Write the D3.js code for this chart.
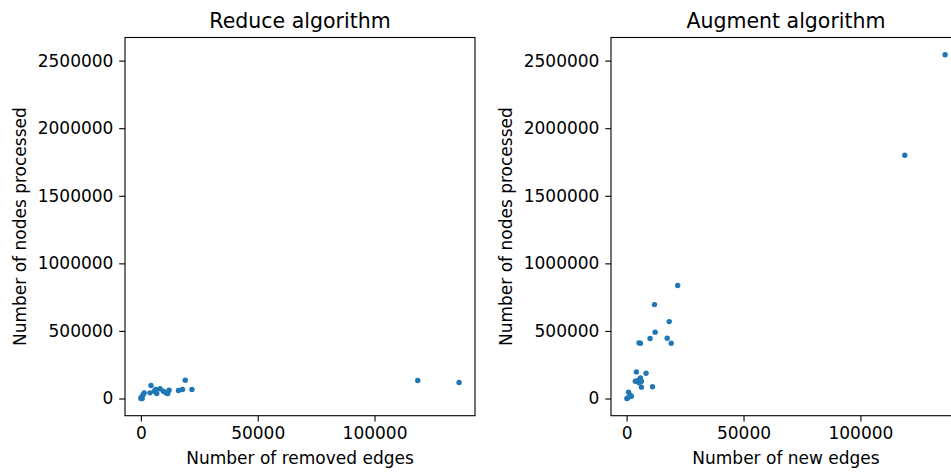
<!DOCTYPE html>
<html>
<head>
<meta charset="utf-8">
<script src="https://cdn.jsdelivr.net/npm/d3@7"></script>
<style>
  html, body { margin: 0; padding: 0; background: #fff; }
  svg { display: block; }
  text { font-family: "DejaVu Sans", sans-serif; fill: #000; }
</style>
</head>
<body>
<svg id="chart" width="951" height="474"></svg>
<script>
// ---- data ----
const reduceRemovedEdges = [0, 200, 560, 990, 1420, 3880, 4310, 5730, 6330, 6770, 8190, 9610, 10650, 11500, 12070, 16080, 17800, 18960, 21850, 118500, 136200];
const reduceNodes        = [0, 10000, 0, 29600, 42000, 42000, 96000, 54000, 67000, 37000, 72000, 54000, 42000, 37000, 61000, 59000, 67000, 135000, 67000, 133000, 118000];

const augmentNewEdges = [130, 560, 860, 1600, 2030, 3750, 4180, 4870, 5300, 5300, 5900, 5900, 6340, 6340, 8320, 10040, 11080, 11940, 12200, 17370, 18230, 19090, 21850, 118966, 136207];
const augmentNodes    = [0, 5000, 47000, 22000, 17000, 128000, 197000, 133000, 116000, 412000, 153000, 409000, 128000, 84000, 187000, 444000, 87000, 695000, 491000, 446000, 569000, 409000, 836000, 1800000, 2544000];

const xTicks = [0, 50000, 100000];
const yTicks = [0, 500000, 1000000, 1500000, 2000000, 2500000];

const panels = [
  { title: "Reduce algorithm", xlabel: "Number of removed edges", x: reduceRemovedEdges, y: reduceNodes, left: 125 },
  { title: "Augment algorithm", xlabel: "Number of new edges", x: augmentNewEdges, y: augmentNodes, left: 611 }
];

// ---- layout ----
const svg = d3.select("#chart");
const W = 350, plotTop = 37.5, plotBottom = 415.7;
const tickLen = 5.8, pad = 5.8, fs = 17;

function padded(ext) {
  const r = ext[1] - ext[0];
  return [ext[0] - 0.05 * r, ext[1] + 0.05 * r];
}
const allY = reduceNodes.concat(augmentNodes);
const yDomain = padded(d3.extent(allY));
const y = d3.scaleLinear().domain(yDomain).range([plotBottom, plotTop]);

panels.forEach(p => {
  const x = d3.scaleLinear().domain(padded(d3.extent(p.x))).range([p.left, p.left + W]);
  const g = svg.append("g");

  // points
  g.selectAll("circle").data(p.x.map((d, i) => [d, p.y[i]])).enter()
    .append("circle")
    .attr("cx", d => x(d[0]))
    .attr("cy", d => y(d[1]))
    .attr("r", 2.7)
    .attr("fill", "#1f77b4");

  // x axis
  const xa = g.append("g").attr("transform", `translate(0,${plotBottom})`)
    .call(d3.axisBottom(x).tickValues(xTicks).tickFormat(d3.format("d")).tickSize(tickLen).tickPadding(pad));
  // y axis
  const ya = g.append("g").attr("transform", `translate(${p.left},0)`)
    .call(d3.axisLeft(y).tickValues(yTicks).tickFormat(d3.format("d")).tickSize(tickLen).tickPadding(pad));
  [xa, ya].forEach(a => {
    a.select(".domain").remove();
    a.selectAll("line").attr("stroke", "#000").attr("stroke-width", 1.1);
    a.selectAll("text").style("font-size", fs + "px").style("font-family", "DejaVu Sans, sans-serif").attr("fill", "#000");
  });

  // frame
  g.append("rect")
    .attr("x", p.left).attr("y", plotTop)
    .attr("width", W).attr("height", plotBottom - plotTop)
    .attr("fill", "none").attr("stroke", "#000").attr("stroke-width", 1.1);

  // title
  g.append("text")
    .attr("x", p.left + W / 2).attr("y", 27.5)
    .attr("text-anchor", "middle")
    .style("font-size", "20.5px")
    .text(p.title);

  // x label
  g.append("text")
    .attr("x", p.left + W / 2).attr("y", 464)
    .attr("text-anchor", "middle")
    .style("font-size", fs + "px")
    .text(p.xlabel);

  // y label
  g.append("text")
    .attr("transform", `translate(${p.left - 99},${(plotTop + plotBottom) / 2}) rotate(-90)`)
    .attr("text-anchor", "middle")
    .style("font-size", fs + "px")
    .text("Number of nodes processed");
});
</script>
</body>
</html>
